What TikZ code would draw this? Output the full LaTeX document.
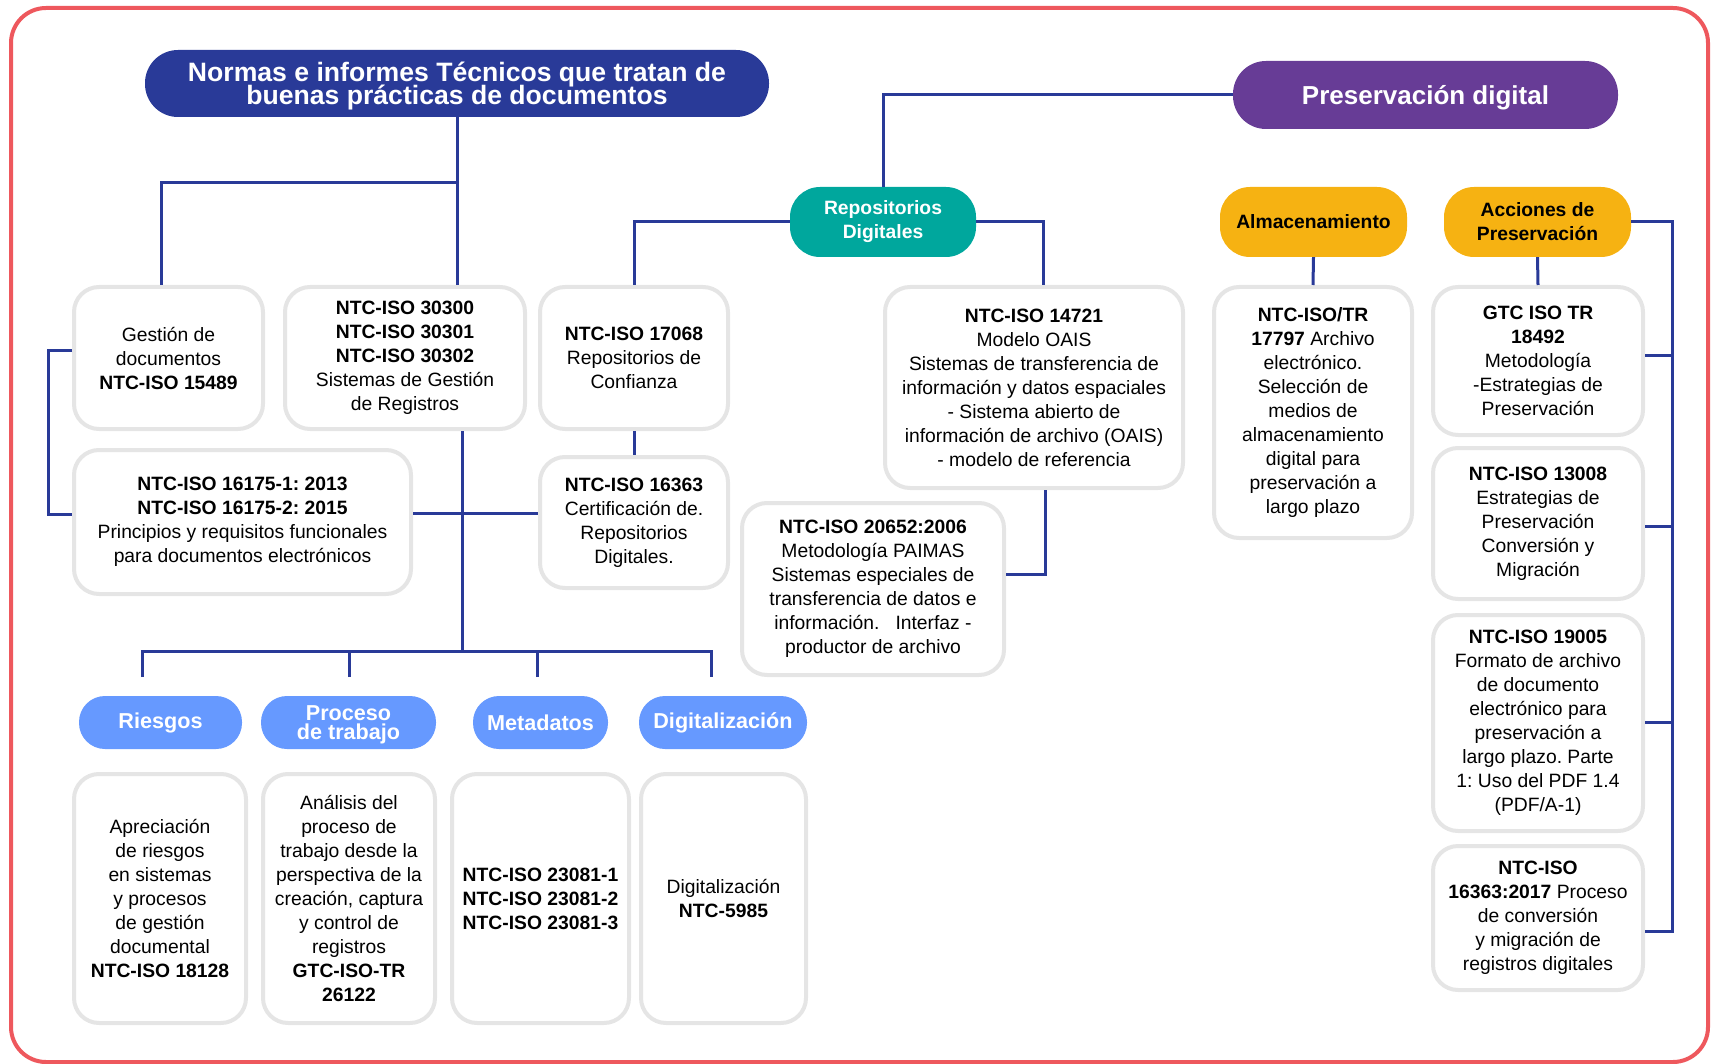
\documentclass[tikz,border=0pt]{standalone}
\usepackage{fontspec}
\setmainfont{Liberation Sans}
\usepackage{tikz}
\usetikzlibrary{calc,positioning}
\frenchspacing
\setlength{\lineskiplimit}{-50pt}

\definecolor{dunkelblau}{RGB}{41,58,152}
\definecolor{lila}{RGB}{103,60,150}
\definecolor{tuerkis}{RGB}{0,167,157}
\definecolor{gelb}{RGB}{246,178,18}
\definecolor{hellblau}{RGB}{102,153,255}
\definecolor{rahmenrot}{RGB}{238,88,93}
\definecolor{hellgrau}{RGB}{229,229,229}

\tikzstyle{line} = [dunkelblau, line width=3pt]
\tikzstyle{kasten} = [draw=hellgrau, line width=4pt, fill=white, rounded corners=25pt, align=center, inner sep=0pt, font=\fontsize{19.3}{24}\selectfont]
\tikzstyle{kopf} = [rounded corners=30pt, align=center, inner sep=0pt, minimum height=70pt, minimum width=187pt, font=\fontsize{19.3}{24}\selectfont\bfseries]
\tikzstyle{titel} = [fill=dunkelblau, text=white, rounded corners=33pt, align=center, inner sep=0pt, font=\fontsize{26.6}{23}\selectfont\bfseries]
\tikzstyle{thema} = [fill=hellblau, text=white, rounded corners=26pt, align=center, inner sep=0pt, minimum height=53pt, font=\fontsize{21.6}{19}\selectfont\bfseries]

\begin{document}
\begin{tikzpicture}[x=1pt,y=-1pt]
	\useasboundingbox (0,0) rectangle (1715,1064);

	% Rahmen
	\draw[rahmenrot, line width=4pt, rounded corners=35pt] (11,8) rectangle (1708,1062);

	% Titel
	\node[titel, minimum width=624pt, minimum height=67pt] (normas) at (457,83.5) {\rule{0pt}{25pt}Normas e informes Técnicos que tratan de\\buenas prácticas de documentos};
	\node[titel, fill=lila, minimum width=385pt, minimum height=68pt, font=\fontsize{26}{24}\selectfont\bfseries] (preserv) at (1425.5,95) {\rule{0pt}{25.5pt}Preservación digital};

	% Kopfzeilen
	\node[kopf, fill=tuerkis, text=white, minimum width=186pt] (repos) at (883,222) {Repositorios\\Digitales};
	\node[kopf, fill=gelb] (almac) at (1313.5,222) {Almacenamiento};
	\node[kopf, fill=gelb] (acciones) at (1537.5,222) {Acciones de\\Preservación};

	% Normen links
	\node[kasten, minimum width=189pt, minimum height=142pt] (gestion) at (168.5,358) {Gestión de\\documentos\\\textbf{NTC-ISO 15489}};
	\node[kasten, minimum width=240pt, minimum height=142pt] (iso30300) at (405,358) {\textbf{NTC-ISO 30300}\\\textbf{NTC-ISO 30301}\\\textbf{NTC-ISO 30302}\\Sistemas de Gestión\\de Registros};
	\node[kasten, minimum width=188pt, minimum height=142pt] (iso17068) at (634,358) {\textbf{NTC-ISO 17068}\\Repositorios de\\Confianza};
	\node[kasten, minimum width=337pt, minimum height=144pt] (iso16175) at (242.5,522) {\textbf{NTC-ISO 16175-1: 2013}\\\textbf{NTC-ISO 16175-2: 2015}\\Principios y requisitos funcionales\\para documentos electrónicos};
	\node[kasten, minimum width=188pt, minimum height=131pt] (iso16363) at (634,522.5) {\textbf{NTC-ISO 16363}\\Certificación de.\\Repositorios\\Digitales.};

	% Normen Mitte
	\node[kasten, minimum width=298pt, minimum height=201pt] (iso14721) at (1034,387.5) {\textbf{NTC-ISO 14721}\\Modelo OAIS\\Sistemas de transferencia de\\información y datos espaciales\\- Sistema abierto de\\información de archivo (OAIS)\\- modelo de referencia};
	\node[kasten, minimum width=262pt, minimum height=172pt] (iso20652) at (873,589) {\textbf{NTC-ISO 20652:2006}\\Metodología PAIMAS\\Sistemas especiales de\\transferencia de datos e\\información.\ \ \ Interfaz -\\productor de archivo};

	% Normen rechts
	\node[kasten, minimum width=198pt, minimum height=251pt] (iso17797) at (1313,412.5) {\textbf{NTC-ISO/TR}\\\textbf{17797} Archivo\\electrónico.\\Selección de\\medios de\\almacenamiento\\digital para\\preservación a\\largo plazo};
	\node[kasten, minimum width=210pt, minimum height=148pt] (gtc18492) at (1538,361) {\textbf{GTC ISO TR}\\\textbf{18492}\\Metodología\\-Estrategias de\\Preservación};
	\node[kasten, minimum width=210pt, minimum height=151pt] (iso13008) at (1538,523.5) {\textbf{NTC-ISO 13008}\\Estrategias de\\Preservación\\Conversión y\\Migración};
	\node[kasten, minimum width=210pt, minimum height=216pt] (iso19005) at (1538,723) {\textbf{NTC-ISO 19005}\\Formato de archivo\\de documento\\electrónico para\\preservación a\\largo plazo. Parte\\1: Uso del PDF 1.4\\(PDF/A-1)};
	\node[kasten, minimum width=210pt, minimum height=144pt] (iso16363b) at (1538,918) {\textbf{NTC-ISO}\\\textbf{16363:2017} Proceso\\de conversión\\y migración de\\registros digitales};

	% Themen unten
	\node[thema, minimum width=163pt] (riesgos) at (160.5,722.5) {Riesgos};
	\node[thema, minimum width=175pt] (proceso) at (348.5,722.5) {\rule{0pt}{19.5pt}Proceso\\de trabajo};
	\node[thema, minimum width=135pt] (metadatos) at (540.5,722.5) {Metadatos};
	\node[thema, minimum width=168pt] (digital) at (723,722.5) {Digitalización};

	\node[kasten, minimum width=172pt, minimum height=249pt] (iso18128) at (160,898.5) {Apreciación\\de riesgos\\en sistemas\\y procesos\\de gestión\\documental\\\textbf{NTC-ISO 18128}};
	\node[kasten, minimum width=172pt, minimum height=249pt] (gtc26122) at (349,898.5) {Análisis del\\proceso de\\trabajo desde la\\perspectiva de la\\creación, captura\\y control de\\registros\\\textbf{GTC-ISO-TR}\\\textbf{26122}};
	\node[kasten, minimum width=177pt, minimum height=249pt] (iso23081) at (540.5,898.5) {\textbf{NTC-ISO 23081-1}\\\textbf{NTC-ISO 23081-2}\\\textbf{NTC-ISO 23081-3}};
	\node[kasten, minimum width=165pt, minimum height=249pt] (ntc5985) at (723.5,898.5) {Digitalización\\\textbf{NTC-5985}};

	% Verbindungen links
	\coordinate (k1) at (161,183);
	\coordinate (k2) at (48,350);
	\coordinate (k3) at (48,514);
	\coordinate (k4) at (462,513);
	\coordinate (k5) at (462,651);
	\draw[line] (normas.south) -- (normas.south |- iso30300.north);
	\draw[line] (normas.south |- k1) -- (k1) -- (k1 |- gestion.north);
	\draw[line] (gestion.west |- k2) -- (k2) -- (k3) -- (iso16175.west |- k3);
	\draw[line] (k4 |- iso30300.south) -- (k5);
	\draw[line] (iso16175.east |- k4) -- (iso16363.west |- k4);
	\draw[line] (iso17068.south) -- (iso16363.north);

	% Verbindungen unten
	\coordinate (d1) at (142,677);
	\coordinate (d2) at (349,677);
	\coordinate (d3) at (537,677);
	\coordinate (d4) at (711,677);
	\draw[line] (d1) |- (d4 |- k5) -- (d4);
	\draw[line] (d2) -- (d2 |- k5);
	\draw[line] (d3) -- (d3 |- k5);

	% Verbindungen Mitte
	\coordinate (k6) at (1043,222);
	\coordinate (k7) at (1045,574);
	\draw[line] (preserv.west) -| (repos.north);
	\draw[line] (repos.west) -| (iso17068.north);
	\draw[line] (repos.east) -- (k6) -- (k6 |- iso14721.north);
	\draw[line] (k7 |- iso14721.south) -- (k7) -- (iso20652.east |- k7);

	% Verbindungen rechts
	\coordinate (r1) at (1672,355);
	\coordinate (r2) at (1672,526);
	\coordinate (r3) at (1672,722);
	\coordinate (r4) at (1672,931);
	\draw[line] (almac.south) -- (iso17797.north);
	\draw[line] (acciones.south) -- (gtc18492.north);
	\draw[line] (acciones.east) -| (r4) -- (iso16363b.east |- r4);
	\draw[line] (gtc18492.east |- r1) -- (r1);
	\draw[line] (iso13008.east |- r2) -- (r2);
	\draw[line] (iso19005.east |- r3) -- (r3);
\end{tikzpicture}
\end{document}
